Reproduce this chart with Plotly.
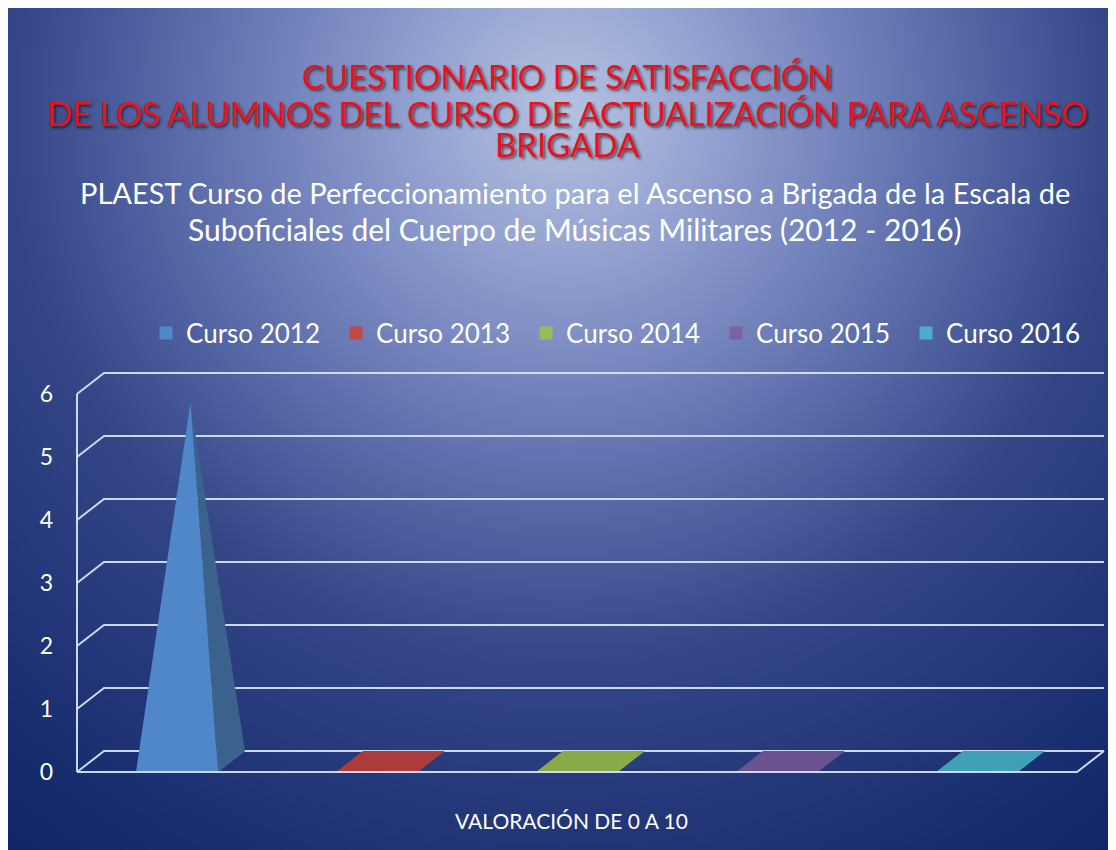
import numpy as np
import plotly.graph_objects as go

# ---------------- data ----------------
categories = ["Curso 2012", "Curso 2013", "Curso 2014", "Curso 2015", "Curso 2016"]
values = [5.7, 0, 0, 0, 0]
y_ticks = [0, 1, 2, 3, 4, 5, 6]

front_colors = ["#5087c8", "#c24a45", "#9bbb59", "#7d62a0", "#4badc6"]
side_colors = ["#3a628c", "#8e3633", "#728a41", "#5c4876", "#377f92"]
base_colors = ["#4a7cb8", "#ad3b3b", "#8aa948", "#6a5290", "#41a0b6"]

title_lines = ["CUESTIONARIO DE SATISFACCIÓN",
               "DE LOS ALUMNOS DEL CURSO DE ACTUALIZACIÓN PARA ASCENSO",
               "BRIGADA"]
subtitle_lines = ["PLAEST Curso de Perfeccionamiento para el Ascenso a Brigada de la Escala de",
                  "Suboficiales del Cuerpo de Músicas Militares (2012 - 2016)"]
x_title = "VALORACIÓN DE 0 A 10"

# ---------------- geometry / scales ----------------
OFF = 8                       # page body margin (px)
W, H = 1116 - OFF, 850 - OFF
FONT = "Lato, 'Open Sans', sans-serif"
X0_PX, CAT_PX = 77 - OFF, 200     # pixel of category edge -0.5 and pixels per category
Y0_PX, UNIT_PX = 772 - OFF, 63    # pixel of value 0 and pixels per unit
x_range = [-0.5 - X0_PX / CAT_PX, -0.5 + (W - X0_PX) / CAT_PX]
y_range = [(Y0_PX - H) / UNIT_PX, Y0_PX / UNIT_PX]
DX = 27 / CAT_PX             # depth offset (x, category units)
DY = 21 / UNIT_PX            # depth offset (y, value units)
HALF_W = 0.205               # half pyramid base width
n = len(categories)
x_end = n - 0.5


def px_to_x(p):
    return -0.5 + (p - X0_PX) / CAT_PX


def px_to_y(p):
    return (Y0_PX - p) / UNIT_PX


def pfx(p):   # screen px -> paper fraction (x)
    return (p - OFF) / W


def pfy(p):   # screen px -> paper fraction (y)
    return 1 - (p - OFF) / H


fig = go.Figure()

# ---------------- background gradient ----------------
xe_px = np.linspace(0, W, 112)
ye_px = np.linspace(H, 0, 86)
xc = (xe_px[:-1] + xe_px[1:]) / 2 + OFF
yc = (ye_px[:-1] + ye_px[1:]) / 2 + OFF
XX, YY = np.meshgrid(xc, yc)
dist = np.sqrt((XX - 565) ** 2 + (YY - 110) ** 2) / 950
dist = np.clip(dist, 0, 1)
fig.add_trace(go.Heatmap(
    x=px_to_x(xe_px), y=px_to_y(ye_px), z=dist, zmin=0, zmax=1,
    zsmooth="best", showscale=False, hoverinfo="skip",
    colorscale=[[0, "rgb(182,194,226)"], [0.12, "rgb(155,170,212)"],
                [0.25, "rgb(125,140,195)"], [0.42, "rgb(86,104,166)"],
                [0.58, "rgb(52,70,134)"], [0.78, "rgb(32,52,118)"],
                [1.0, "rgb(12,35,100)"]]))

# ---------------- gridlines (back wall + left wall) ----------------
gx, gy = [], []
for k in y_ticks:
    gx += [-0.5, -0.5 + DX, x_end + DX, None]
    gy += [k, k + DY, k + DY, None]
gx += [-0.5, -0.5, None]
gy += [y_ticks[0], y_ticks[-1], None]
fig.add_trace(go.Scatter(x=gx, y=gy, mode="lines", showlegend=False, hoverinfo="skip",
                         line=dict(color="rgba(214,224,245,0.95)", width=2)))

# ---------------- pyramids ----------------
for i, (cat, v) in enumerate(zip(categories, values)):
    fl, fr = (i - HALF_W, 0), (i + HALF_W, 0)
    bl, br = (i - HALF_W + DX, DY), (i + HALF_W + DX, DY)
    apex = (i + DX / 2, DY / 2 + v)
    # base
    bx = [fl[0], fr[0], br[0], bl[0], fl[0]]
    by = [fl[1], fr[1], br[1], bl[1], fl[1]]
    fig.add_trace(go.Scatter(x=bx, y=by, mode="lines", fill="toself",
                             fillcolor=base_colors[i], line=dict(width=0, color=base_colors[i]),
                             showlegend=False, legendgroup=cat, name=cat, hoverinfo="skip"))
    if v > 0:
        # right side face
        fig.add_trace(go.Scatter(x=[fr[0], br[0], apex[0], fr[0]], y=[fr[1], br[1], apex[1], fr[1]],
                                 mode="lines", fill="toself", fillcolor=side_colors[i],
                                 line=dict(width=0, color=side_colors[i]),
                                 showlegend=False, legendgroup=cat, name=cat, hoverinfo="skip"))
        # front face
        fig.add_trace(go.Scatter(x=[fl[0], fr[0], apex[0], fl[0]], y=[fl[1], fr[1], apex[1], fl[1]],
                                 mode="lines", fill="toself", fillcolor=front_colors[i],
                                 line=dict(width=0, color=front_colors[i]),
                                 showlegend=False, legendgroup=cat, name=cat,
                                 hovertemplate=f"{cat}: {v}<extra></extra>"))

# ---------------- floor front edge ----------------
fig.add_trace(go.Scatter(x=[-0.5, x_end, x_end + DX], y=[0, 0, DY], mode="lines",
                         showlegend=False, hoverinfo="skip",
                         line=dict(color="rgba(214,224,245,0.95)", width=2)))

# ---------------- legend entries ----------------
for i, cat in enumerate(categories):
    fig.add_trace(go.Scatter(x=[None], y=[None], mode="markers", name=cat, legendgroup=cat,
                             marker=dict(symbol="square", size=13, color=front_colors[i])))

# ---------------- texts ----------------
annotations = []
for line, yp in zip(title_lines, [76, 113, 144]):
    annotations.append(dict(text=line, x=pfx(567), y=pfy(yp), xref="paper", yref="paper",
                            showarrow=False, xanchor="center", yanchor="middle",
                            font=dict(family=FONT, size=33, color="#e8121c",
                                      shadow="2px 2px 3px rgba(0,0,0,0.6)")))
for line, yp, sz in zip(subtitle_lines, [193, 229], [29, 30]):
    annotations.append(dict(text=line, x=pfx(575), y=pfy(yp), xref="paper", yref="paper",
                            showarrow=False, xanchor="center", yanchor="middle",
                            font=dict(family=FONT, size=sz, color="white")))
annotations.append(dict(text=x_title, x=pfx(571), y=pfy(820), xref="paper", yref="paper",
                        showarrow=False, xanchor="center", yanchor="middle",
                        font=dict(family=FONT, size=21, color="white")))

fig.update_layout(
    width=W, height=H,
    margin=dict(l=0, r=0, t=0, b=0),
    paper_bgcolor="white",
    plot_bgcolor="rgba(0,0,0,0)",
    annotations=annotations,
    showlegend=True,
    legend=dict(orientation="h", x=pfx(146), xanchor="left", y=pfy(333), yanchor="middle",
                font=dict(family=FONT, size=26, color="white"), bgcolor="rgba(0,0,0,0)",
                entrywidth=145),
    xaxis=dict(range=x_range, domain=[0, 1], visible=False, fixedrange=True),
    yaxis=dict(range=y_range, domain=[0, 1], anchor="free", position=pfx(53),
               tickvals=y_ticks, ticktext=[str(t) for t in y_ticks],
               showgrid=False, zeroline=False, showline=False, ticks="",
               tickfont=dict(family=FONT, size=23, color="white"), fixedrange=True),
)

fig.write_html("out.html")
